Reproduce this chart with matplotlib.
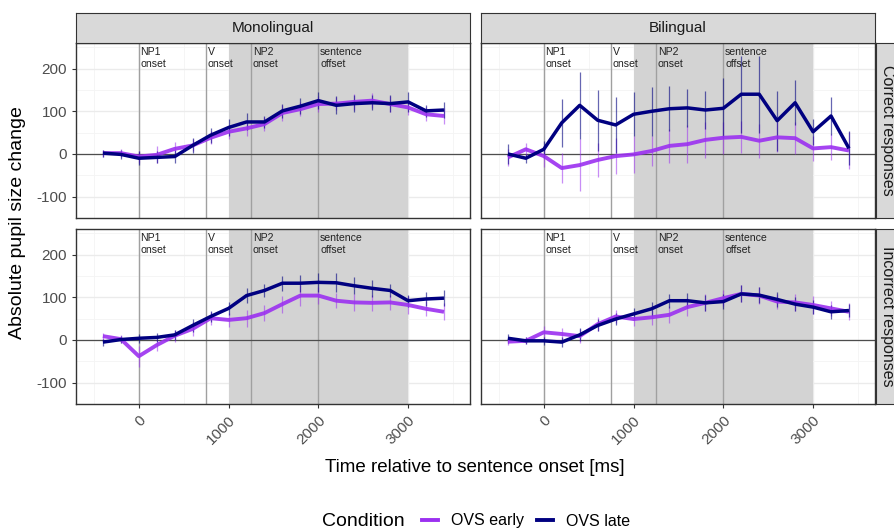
import numpy as np
import matplotlib.pyplot as plt
from matplotlib.lines import Line2D
from matplotlib.ticker import MultipleLocator

plt.rcParams['font.family'] = ['Liberation Sans', 'DejaVu Sans']
plt.rcParams['axes.unicode_minus'] = False

# time bins (ms relative to sentence onset)
t = [-400, -200, 0, 200, 400, 600, 800, 1000, 1200, 1400,
     1600, 1800, 2000, 2200, 2400, 2600, 2800, 3000, 3200, 3400]

# mean pupil change, OVS early / OVS late, per group and response type
mono_cor_early = [2, 2, -6, -2, 12, 20, 38, 52, 60, 70, 96, 105, 117, 118, 122, 125, 117, 109, 93, 89]
mono_cor_late = [2, -1, -10, -8, -6, 20, 44, 62, 75, 75, 101, 112, 125, 114, 118, 120, 118, 122, 101, 103]
bil_cor_early = [-8, 11, -5, -33, -26, -14, -5, -1, 7, 19, 23, 33, 38, 40, 31, 39, 37, 13, 16, 8]
bil_cor_late = [0, -10, 11, 73, 114, 79, 68, 93, 100, 106, 108, 103, 107, 140, 140, 78, 120, 52, 89, 13]
mono_inc_early = [9, 2, -38, -12, 10, 26, 51, 47, 51, 63, 84, 104, 104, 92, 88, 87, 88, 82, 73, 66]
mono_inc_late = [-5, 1, 4, 6, 12, 34, 55, 74, 104, 116, 133, 133, 135, 134, 127, 121, 116, 92, 96, 98]
bil_inc_early = [-4, -2, 18, 14, 9, 37, 55, 49, 53, 59, 77, 87, 98, 108, 104, 90, 88, 82, 74, 66]
bil_inc_late = [4, -2, -2, -5, 12, 34, 49, 61, 73, 92, 92, 87, 90, 108, 105, 95, 84, 77, 66, 69]

# standard errors
mono_cor_early_se = [8, 10, 14, 20, 15, 14, 15, 16, 18, 17, 18, 17, 18, 16, 18, 17, 18, 17, 16, 18]
mono_cor_late_se = [8, 10, 16, 14, 16, 18, 18, 20, 20, 14, 16, 19, 20, 21, 20, 18, 20, 24, 14, 19]
bil_cor_early_se = [20, 15, 25, 36, 60, 40, 42, 43, 35, 40, 45, 42, 38, 37, 40, 35, 38, 30, 30, 43]
bil_cor_late_se = [23, 10, 20, 56, 78, 71, 65, 52, 58, 53, 45, 45, 70, 90, 90, 70, 53, 30, 45, 40]
mono_inc_early_se = [8, 10, 25, 15, 14, 16, 15, 16, 20, 18, 20, 24, 20, 18, 20, 18, 18, 20, 18, 20]
mono_inc_late_se = [8, 8, 10, 10, 12, 16, 14, 16, 18, 16, 18, 20, 22, 22, 20, 20, 16, 14, 16, 18]
bil_inc_early_se = [8, 8, 14, 14, 16, 16, 15, 16, 18, 20, 22, 20, 18, 20, 20, 18, 20, 20, 18, 20]
bil_inc_late_se = [10, 8, 10, 12, 15, 14, 14, 15, 16, 16, 18, 18, 18, 20, 18, 18, 16, 16, 16, 15]

events = [0, 750, 1250, 2000]
event_labels = ['NP1\nonset', 'V\nonset', 'NP2\nonset', 'sentence\noffset']
col_titles = ['Monolingual', 'Bilingual']
row_titles = ['Correct responses', 'Incorrect responses']

early_col = '#9B30F0'
late_col = '#000080'

panels = [
    [(mono_cor_early, mono_cor_early_se, mono_cor_late, mono_cor_late_se),
     (bil_cor_early, bil_cor_early_se, bil_cor_late, bil_cor_late_se)],
    [(mono_inc_early, mono_inc_early_se, mono_inc_late, mono_inc_late_se),
     (bil_inc_early, bil_inc_early_se, bil_inc_late, bil_inc_late_se)],
]

W, H = 895, 529
fig = plt.figure(figsize=(W / 100, H / 100), dpi=100)


def box(x0, y0, x1, y1):
    return [x0 / W, 1 - y1 / H, (x1 - x0) / W, (y1 - y0) / H]


cols_px = [(76, 470), (481, 875)]
rows_px = [(43, 218), (229, 404)]

for r, (y0, y1) in enumerate(rows_px):
    for c, (x0, x1) in enumerate(cols_px):
        ax = fig.add_axes(box(x0, y0, x1, y1))
        early, early_se, late, late_se = panels[r][c]
        ax.set_xlim(-700, 3690)
        ax.set_ylim(-150, 260)
        ax.xaxis.set_major_locator(MultipleLocator(1000))
        ax.xaxis.set_minor_locator(MultipleLocator(500))
        ax.yaxis.set_major_locator(MultipleLocator(100))
        ax.yaxis.set_minor_locator(MultipleLocator(50))
        ax.grid(which='major', color='#EBEBEB', lw=1.0, zorder=0)
        ax.grid(which='minor', color='#F4F4F4', lw=0.6, zorder=0)
        ax.set_axisbelow(True)
        ax.axvspan(1000, 3000, color='#D3D3D3', lw=0, zorder=1)
        for ev, lab in zip(events, event_labels):
            ax.axvline(ev, color='#A0A0A0', lw=1.0, zorder=2)
            ax.text(ev + 20, 251, lab, ha='left', va='top', fontsize=7.6,
                    color='#222222', linespacing=1.3, zorder=6)
        ax.axhline(0, color='#4D4D4D', lw=0.9, zorder=2)

        ax.vlines(t, np.array(early) - early_se, np.array(early) + early_se,
                  color=early_col, lw=0.9, alpha=0.55, zorder=3)
        ax.vlines(t, np.array(late) - late_se, np.array(late) + late_se,
                  color=late_col, lw=0.9, alpha=0.6, zorder=3)
        ax.plot(t, early, color=early_col, lw=2.8, alpha=0.9,
                solid_capstyle='butt', zorder=4)
        ax.plot(t, late, color=late_col, lw=2.5, solid_capstyle='butt', zorder=5)

        for s in ax.spines.values():
            s.set_color('#333333')
            s.set_linewidth(1.0)
        ax.tick_params(which='minor', length=0)
        ax.tick_params(which='major', length=3, color='#333333', width=0.8,
                       labelcolor='#4D4D4D', labelsize=11)
        if c == 0:
            ax.set_yticks([-100, 0, 100, 200])
        else:
            ax.tick_params(axis='y', which='both', left=False, labelleft=False)
        if r == 1:
            ax.set_xticks([0, 1000, 2000, 3000])
            ax.set_xticklabels(['0', '1000', '2000', '3000'], rotation=45,
                               ha='right', va='top', rotation_mode='anchor')
        else:
            ax.tick_params(axis='x', which='both', bottom=False, labelbottom=False)

# column strips
for (x0, x1), title in zip(cols_px, col_titles):
    sax = fig.add_axes(box(x0, 13, x1, 43))
    sax.set_facecolor('#D9D9D9')
    sax.set_xticks([])
    sax.set_yticks([])
    for s in sax.spines.values():
        s.set_color('#333333')
    sax.text(0.5, 0.5, title, ha='center', va='center', fontsize=11,
             color='#1A1A1A', transform=sax.transAxes)

# row strips
for (y0, y1), title in zip(rows_px, row_titles):
    sax = fig.add_axes(box(876, y0, 902, y1))
    sax.set_facecolor('#D9D9D9')
    sax.set_xticks([])
    sax.set_yticks([])
    for s in sax.spines.values():
        s.set_color('#333333')
    sax.text(0.45, 0.5, title, ha='center', va='center', fontsize=11.5,
             color='#1A1A1A', rotation=270, transform=sax.transAxes)

fig.text(18 / W, 1 - 223 / H, 'Absolute pupil size change', rotation=90,
         ha='center', va='center', fontsize=14)
fig.text(475 / W, 1 - 467 / H, 'Time relative to sentence onset [ms]',
         ha='center', va='center', fontsize=13.5)

fig.text(363 / W, 1 - 521 / H, 'Condition', ha='center', va='center', fontsize=14)
handles = [Line2D([], [], color=early_col, lw=2.8),
           Line2D([], [], color=late_col, lw=2.8)]
fig.legend(handles, ['OVS early', 'OVS late'], ncol=2, frameon=False,
           loc='center left', bbox_to_anchor=(408 / W, 1 - 521 / H),
           fontsize=11.5, handlelength=1.0, handletextpad=0.8, columnspacing=0.8)

fig.savefig('out.png', dpi=100)
